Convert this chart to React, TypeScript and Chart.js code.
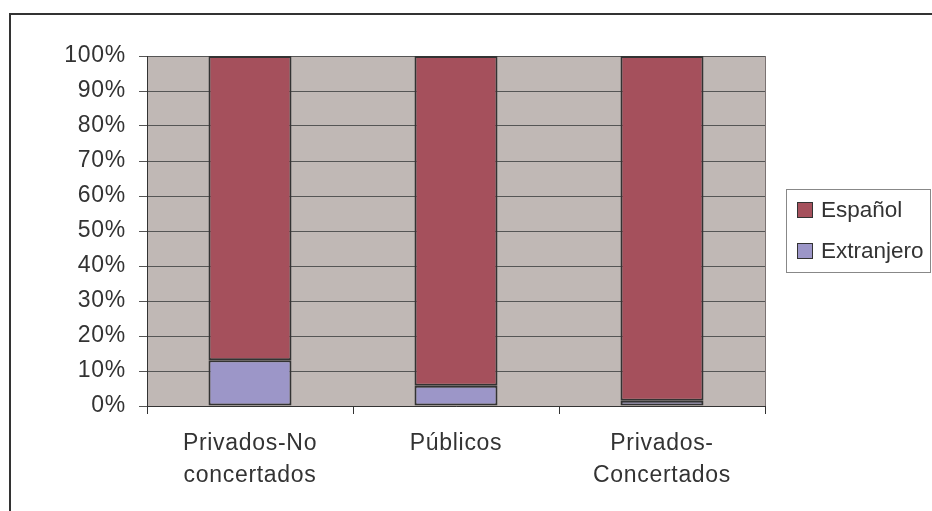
import React, { useEffect, useRef } from "react";
import { Chart, registerables } from "chart.js";
Chart.register(...registerables);

const categories: string[][] = [["Privados-No", "concertados"], ["Públicos"], ["Privados-", "Concertados"]];
const seriesNames = ["Extranjero", "Español"];
const extranjero = [13.1, 5.8, 1.5];
const espanol = [86.9, 94.2, 98.5];
const seriesColors = ["#9c96c8", "#a5505c"];
const yMin = 0;
const yMax = 100;
const yStep = 10;

const FONT = "'Liberation Sans', Arial, sans-serif";
const TEXT = "#333333";

const bgPlugin = {
  id: "plotBg",
  beforeDraw(chart: any) {
    const { ctx, chartArea: a } = chart;
    (ctx as any).letterSpacing = "0.7px";
    ctx.save();
    ctx.fillStyle = "#c0b8b5";
    ctx.fillRect(a.left, a.top, a.right - a.left, a.bottom - a.top);
    ctx.restore();
  },
  afterDatasetsDraw(chart: any) {
    const { ctx, chartArea: a } = chart;
    ctx.save();
    ctx.strokeStyle = "#7a7272";
    ctx.lineWidth = 1;
    ctx.beginPath();
    ctx.moveTo(Math.round(a.right) + 0.5, a.top);
    ctx.lineTo(Math.round(a.right) + 0.5, a.bottom);
    ctx.stroke();
    ctx.restore();
  },
};

const legendPlugin = {
  id: "customLegend",
  afterDraw(chart: any) {
    const { ctx } = chart;
    const ds = chart.data.datasets.slice().reverse();
    ctx.save();
    (ctx as any).letterSpacing = "0px";
    ctx.strokeStyle = "#888888";
    ctx.lineWidth = 1;
    ctx.strokeRect(786.5, 189.5, 144, 83);
    ctx.font = `22.5px ${FONT}`;
    ctx.textBaseline = "middle";
    ctx.textAlign = "left";
    ds.forEach((d: any, i: number) => {
      const y = 202 + i * 41;
      ctx.fillStyle = d.backgroundColor;
      ctx.fillRect(797, y, 16, 16);
      ctx.strokeStyle = "#333333";
      ctx.strokeRect(797.5, y + 0.5, 15, 15);
      ctx.fillStyle = TEXT;
      ctx.fillText(d.label, 821, y + 9);
    });
    ctx.restore();
  },
};

export default function App() {
  const ref = useRef<HTMLCanvasElement>(null);
  useEffect(() => {
    if (!ref.current) return;
    const chart = new Chart(ref.current, {
      type: "bar",
      data: {
        labels: categories,
        datasets: [
          {
            label: seriesNames[0],
            data: extranjero,
            backgroundColor: seriesColors[0],
            borderColor: "#333333",
            borderWidth: 2,
            borderSkipped: false,
          },
          {
            label: seriesNames[1],
            data: espanol,
            backgroundColor: seriesColors[1],
            borderColor: "#333333",
            borderWidth: 2,
            borderSkipped: false,
          },
        ],
      },
      options: {
        responsive: false,
        animation: false,
        events: [],
        layout: { padding: { left: 0, top: 56, right: 167, bottom: 0 } },
        datasets: { bar: { barPercentage: 0.403, categoryPercentage: 1 } },
        plugins: { legend: { display: false }, tooltip: { enabled: false } },
        scales: {
          x: {
            stacked: true,
            offset: true,
            grid: { offset: true, drawOnChartArea: false, tickLength: 8, color: "#333333" },
            border: { color: "#333333", width: 1 },
            ticks: { color: TEXT, font: { family: FONT, size: 23, lineHeight: 1.39 }, padding: 14, maxRotation: 0, autoSkip: false },
            afterFit(scale: any) { scale.height = 105; },
          },
          y: {
            stacked: true,
            min: yMin,
            max: yMax,
            grid: { color: "#555555", tickLength: 8, lineWidth: 1 },
            border: { color: "#333333", width: 1 },
            ticks: {
              stepSize: yStep,
              color: TEXT,
              font: { family: FONT, size: 23 },
              padding: 13,
              callback: (v: any) => `${v}%`,
            },
            afterFit(scale: any) { scale.width = 147; },
          },
        },
      },
      plugins: [bgPlugin, legendPlugin],
    });
    return () => chart.destroy();
  }, []);
  return (
    <div style={{ position: "fixed", left: 0, top: 0, width: 932, height: 511, overflow: "hidden", background: "#fff" }}>
      <div style={{ position: "absolute", left: 9, top: 13, width: 1000, height: 600, borderLeft: "2px solid #333", borderTop: "2px solid #333" }} />
      <canvas ref={ref} width={932} height={511} style={{ position: "absolute", left: 0, top: 0, width: 932, height: 511 }} />
    </div>
  );
}
